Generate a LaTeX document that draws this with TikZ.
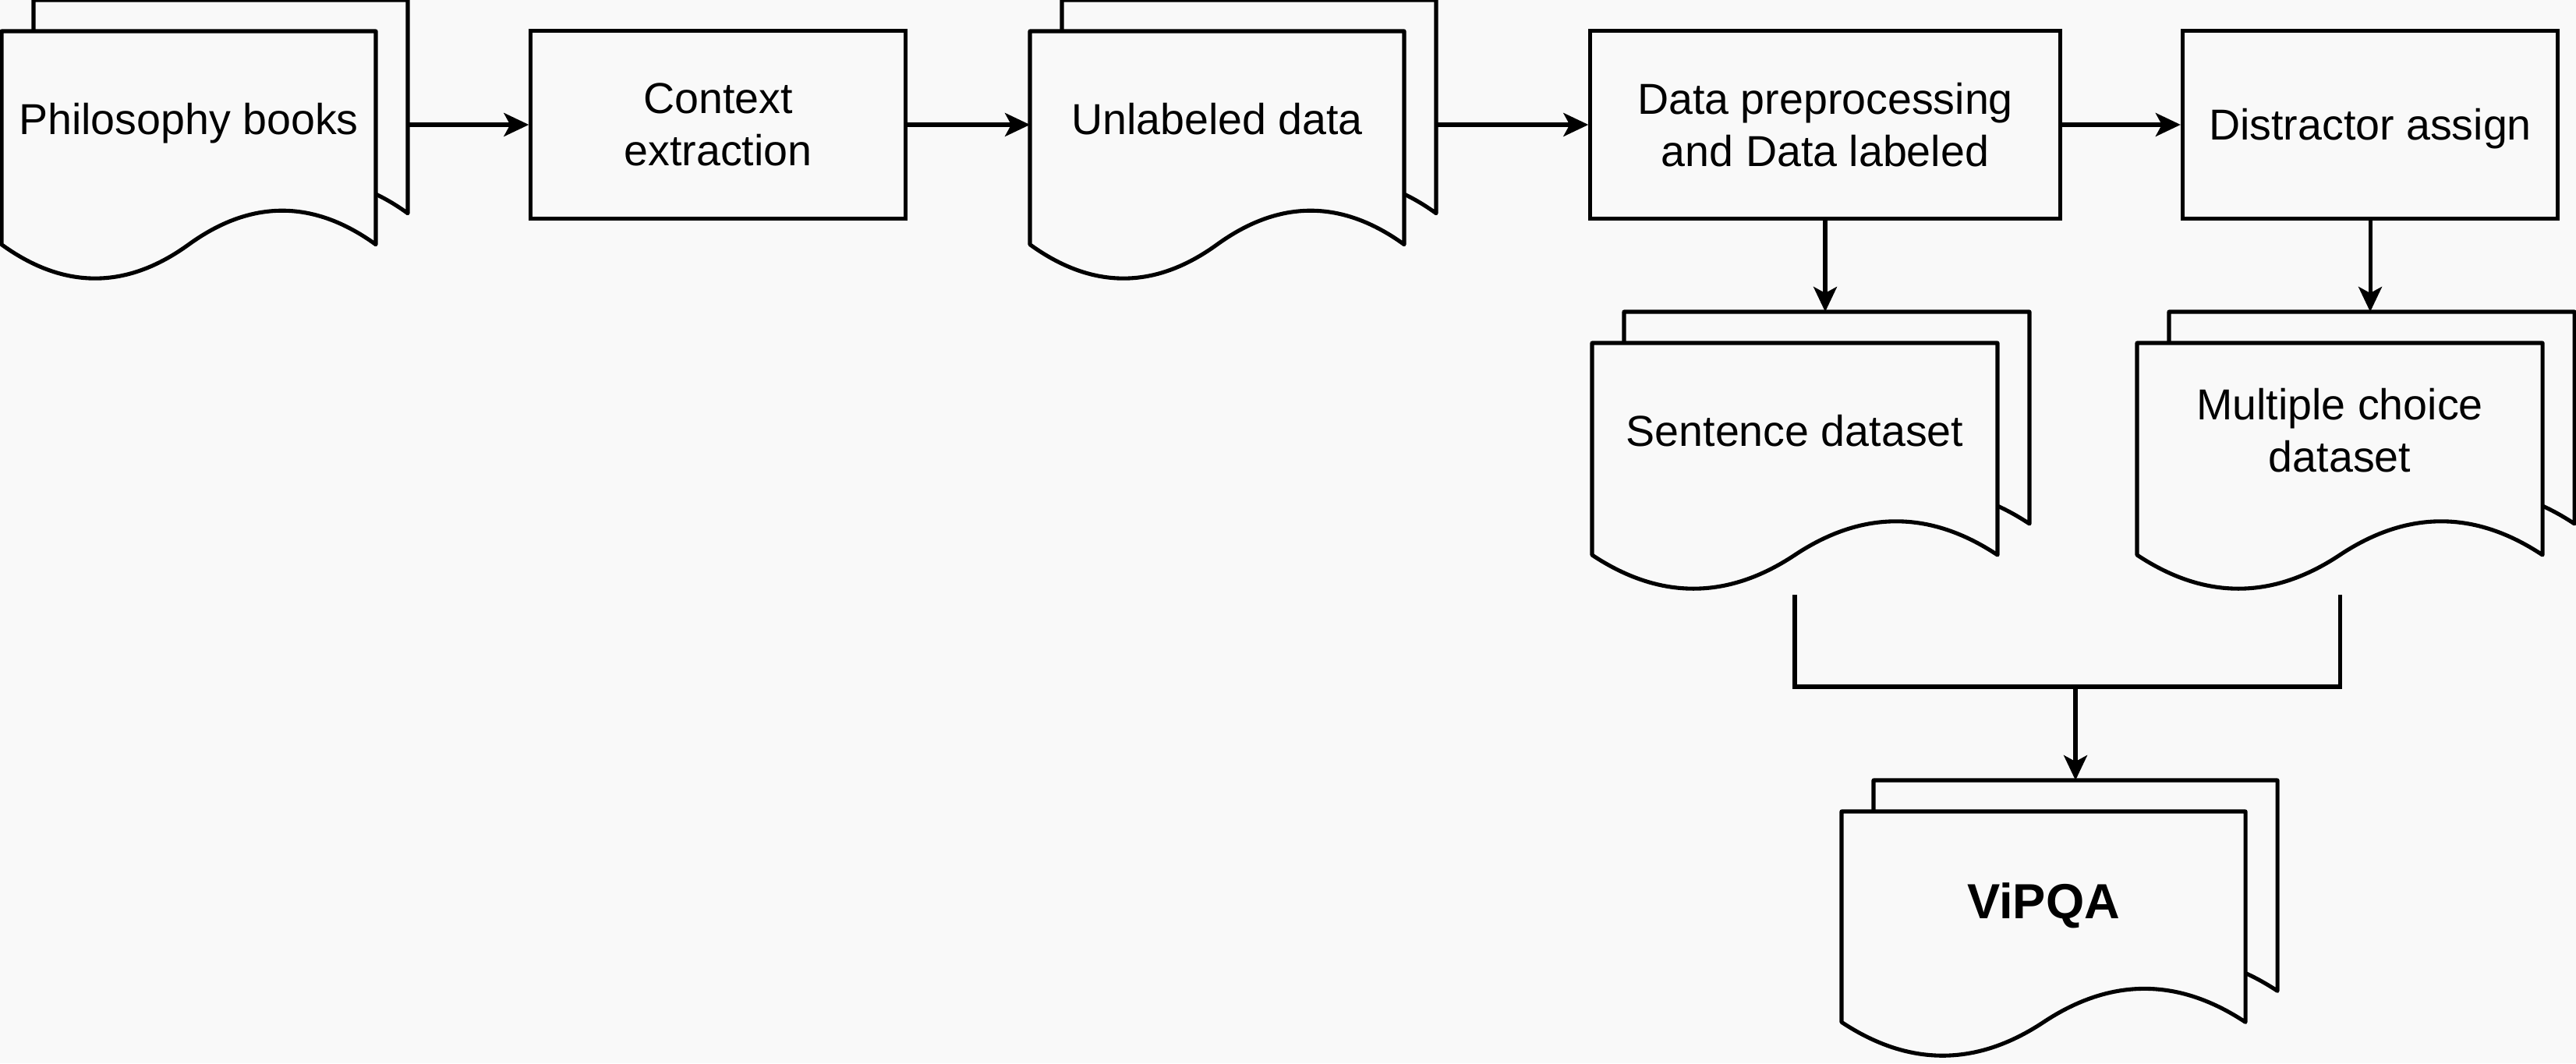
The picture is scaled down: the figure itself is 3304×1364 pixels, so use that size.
\documentclass[tikz,border=0pt]{standalone}
\usepackage{fontspec}
\setmainfont{Liberation Sans}
\usetikzlibrary{arrows.meta}
\definecolor{bgc}{HTML}{F9F9F9}
\newcommand\docshape[4]{%
  \filldraw[docline] ({#1},{#2}) -- ({#1+#3},{#2}) -- ({#1+#3},{#2+0.85*#4})
    .. controls ({#1+5*#3/6},{#2+0.67*#4}) and ({#1+2*#3/3},{#2+0.67*#4}) .. ({#1+#3/2},{#2+0.85*#4})
    .. controls ({#1+#3/3},{#2+1.03*#4}) and ({#1+#3/6},{#2+1.03*#4}) .. ({#1},{#2+0.85*#4}) -- cycle;}
% #1 name, #2 x0, #3 y0, #4 w, #5 H, #6 label options, #7 text
\newcommand\mdoc[7]{%
  \docshape{#2+41}{#3-40}{#4}{#5}
  \node[ghost, minimum width={(#4)*0.01cm}, minimum height={0.85*(#5)*0.01cm}] (#1B) at ({#2+41},{#3-40}) {};
  \docshape{#2}{#3}{#4}{#5}
  \node[ghost, minimum width={(#4)*0.01cm}, minimum height={0.85*(#5)*0.01cm}] (#1F) at ({#2},{#3}) {};
  \node[lbl, #6] (#1) at ({#2+#4/2},{#3}) {#7};}
\begin{document}
\begin{tikzpicture}[x=0.01cm,y=-0.01cm,
  line width=1.45pt,
  docline/.style={draw=black, fill=bgc, line join=round},
  procbox/.style={draw=black, fill=bgc, minimum height=2.4cm, inner sep=0},
  lbl/.style={align=center, inner sep=0, font=\fontsize{15.8}{19}\selectfont},
  one/.style={anchor=base, yshift=-1.32cm},
  two/.style={yshift=-1.12cm},
  ghost/.style={inner sep=0, outer sep=0, anchor=north west},
  arr/.style={-{Stealth[length=0.32cm,width=0.30cm,inset=0.08cm]}}]
\fill[bgc] (0,0) rectangle (3304,1364);
\useasboundingbox (0,0) rectangle (3304,1364);

\mdoc{phil}{2}{40}{480}{322}{one}{Philosophy books}
\mdoc{unl}{1321}{40}{480}{322}{one}{Unlabeled data}
\mdoc{sent}{2042}{440}{520}{320}{one}{Sentence dataset}
\mdoc{mc}{2741}{440}{520}{320}{two}{Multiple choice\\dataset}
\mdoc{vip}{2362}{1041}{518}{318}{anchor=base, yshift=-1.37cm, font=\fontsize{18}{22}\selectfont\bfseries}{ViPQA}

\node[procbox, minimum width=4.8cm] (ctx) at (921,160) {};
\node[lbl] (ctxT) at (ctx.center) {Context\\extraction};
\node[procbox, minimum width=6.02cm] (prep) at (2341,160) {};
\node[lbl] (prepT) at (prep.center) {Data preprocessing\\and Data labeled};
\node[procbox, minimum width=4.81cm] (dist) at (3040,160) {};
\node[lbl, anchor=base] (distT) at (3040,180) {Distractor assign};

\draw[arr] (ctx.west -| philB.east) -- (ctx.west);
\draw[arr] (ctx.east) -- (ctx.east -| unlF.west);
\draw[arr] (prep.west -| unlB.east) -- (prep.west);
\draw[arr] (prep.east) -- (dist.west);
\draw[arr] (prep.south) -- (prep.south |- sentB.north);
\draw[arr] (dist.south) -- (dist.south |- mcB.north);

\coordinate (m1) at (2302,763);
\coordinate (m2) at (3001,763);
\coordinate (mid) at (2662,881);
\draw (m1) |- (mid) -| (m2);
\draw[arr] (mid) -- (mid |- vipB.north);
\end{tikzpicture}
\end{document}
